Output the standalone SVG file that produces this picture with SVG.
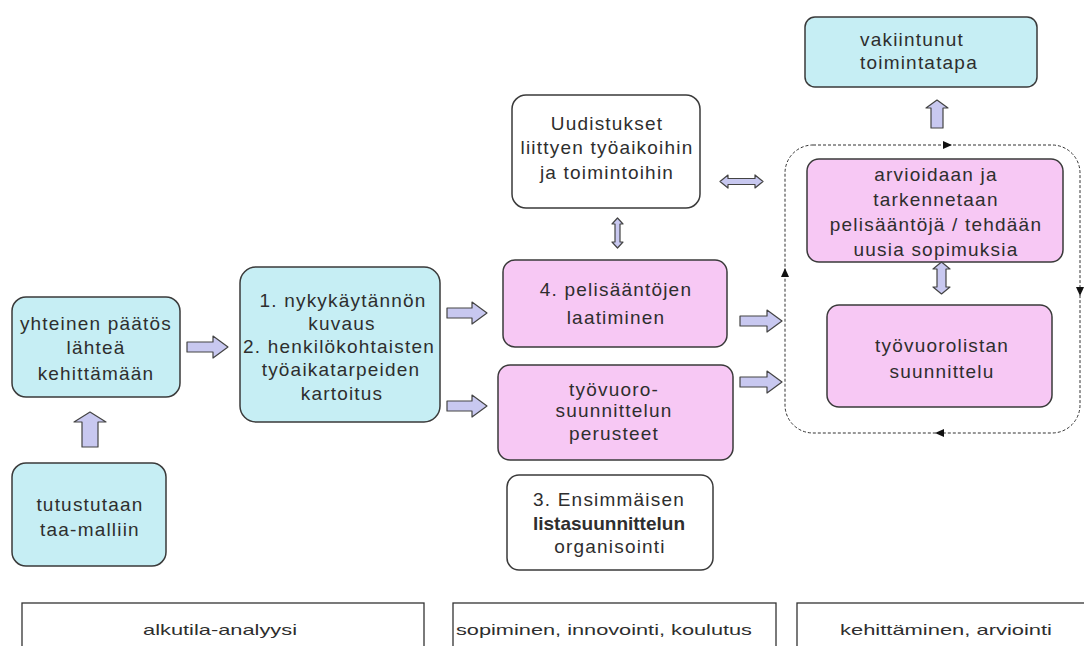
<svg xmlns="http://www.w3.org/2000/svg" width="1084" height="646" viewBox="0 0 1084 646">
<style>
.cy{fill:#c6eef4;stroke:#3a3a3a;stroke-width:1.5}
.pk{fill:#f7c8f4;stroke:#3a3a3a;stroke-width:1.5}
.wh{fill:#ffffff;stroke:#3a3a3a;stroke-width:1.5}
.bar{fill:#ffffff;stroke:#333;stroke-width:1.3}
text{font-family:"Liberation Sans",Arial,sans-serif;font-size:19px;fill:#2e2e2e;text-anchor:middle;letter-spacing:1.2px}
.sm{font-size:15px;letter-spacing:0}
.ar{fill:#c8c8f0;stroke:#444;stroke-width:1.2;stroke-linejoin:round}
.loop{fill:none;stroke:#333;stroke-width:1;stroke-dasharray:3 2}
.tri{fill:#111}
</style>
<rect width="1084" height="646" fill="#ffffff"/>
<g id="n-yhteinen">
<rect class="cy" x="12" y="297" width="168" height="100" rx="14"/>
<text x="96" y="330">yhteinen päätös</text>
<text x="96" y="354">lähteä</text>
<text x="96" y="380">kehittämään</text>
</g>
<g id="n-tutustutaan">
<rect class="cy" x="12" y="463" width="154" height="103" rx="14"/>
<text x="90" y="511">tutustutaan</text>
<text x="90" y="536">taa-malliin</text>
</g>
<g id="n-kuvaus">
<rect class="cy" x="240" y="267" width="200" height="155" rx="16"/>
<text x="343" y="307">1. nykykäytännön</text>
<text x="342" y="330">kuvaus</text>
<text x="339" y="353">2. henkilökohtaisten</text>
<text x="341" y="376">työaikatarpeiden</text>
<text x="342" y="400">kartoitus</text>
</g>
<g id="n-uudistukset">
<rect class="wh" x="512" y="95" width="188" height="113" rx="14"/>
<text x="607" y="130">Uudistukset</text>
<text x="607" y="154">liittyen työaikoihin</text>
<text x="607" y="179">ja toimintoihin</text>
</g>
<g id="n-pelisaannot">
<rect class="pk" x="503" y="260" width="224" height="87" rx="12"/>
<text x="616" y="296">4. pelisääntöjen</text>
<text x="616" y="324">laatiminen</text>
</g>
<g id="n-perusteet">
<rect class="pk" x="498" y="365" width="235" height="95" rx="12"/>
<text x="614" y="396">työvuoro-</text>
<text x="614" y="417">suunnittelun</text>
<text x="614" y="440">perusteet</text>
</g>
<g id="n-ensimmaisen">
<rect class="wh" x="507" y="475" width="206" height="95" rx="12"/>
<text x="609" y="506">3.  Ensimmäisen</text>
<text x="609" y="530" font-weight="bold" style="letter-spacing:0">listasuunnittelun</text>
<text x="610" y="553">organisointi</text>
</g>
<g id="n-vakiintunut">
<rect class="cy" x="805" y="17" width="232" height="70" rx="10"/>
<text x="860" y="46" style="text-anchor:start">vakiintunut</text>
<text x="860" y="69" style="text-anchor:start">toimintatapa</text>
</g>
<g id="n-arvioidaan">
<rect class="pk" x="807" y="159" width="256" height="103" rx="12"/>
<text x="936" y="181">arvioidaan ja</text>
<text x="936" y="206">tarkennetaan</text>
<text x="936" y="231">pelisääntöjä / tehdään</text>
<text x="936" y="256">uusia sopimuksia</text>
</g>
<g id="n-tyovuorolistan">
<rect class="pk" x="827" y="305" width="225" height="102" rx="12"/>
<text x="942" y="352">työvuorolistan</text>
<text x="942" y="378">suunnittelu</text>
</g>
<g id="phases">
<rect class="bar" x="22" y="603" width="402" height="60"/>
<text class="sm" x="220" y="635" textLength="154" lengthAdjust="spacingAndGlyphs">alkutila-analyysi</text>
<rect class="bar" x="453" y="603" width="323" height="60"/>
<text class="sm" x="604" y="635" textLength="296" lengthAdjust="spacingAndGlyphs">sopiminen, innovointi, koulutus</text>
<rect class="bar" x="797" y="603" width="300" height="60"/>
<text class="sm" x="946" y="635" textLength="212" lengthAdjust="spacingAndGlyphs">kehittäminen, arviointi</text>
</g>
<g id="connectors">
<path class="ar" d="M187,342 h26 v-6 l15,11 l-15,11 v-6 h-26 z"/>
<path class="ar" d="M447,308 h25 v-6 l15,11 l-15,11 v-6 h-25 z"/>
<path class="ar" d="M447,401 h25 v-6 l15,11 l-15,11 v-6 h-25 z"/>
<path class="ar" d="M740,316 h27 v-6 l15,11 l-15,11 v-6 h-27 z"/>
<path class="ar" d="M740,377 h27 v-6 l15,11 l-15,11 v-6 h-27 z"/>
<path class="ar" d="M82,447 v-25 h-8 l16,-10 l16,10 h-8 v25 z"/>
<path class="ar" d="M931,128 v-20 h-5 l11,-8 l11,8 h-5 v20 z"/>
<path class="ar" d="M615,224 h-3 l5.5,-6 l5.5,6 h-3 v18 h3 l-5.5,6 l-5.5,-6 h3 z"/>
<path class="ar" d="M728,178.5 v-3.5 l-8,6.5 l8,6.5 v-3.5 h27 v3.5 l8,-6.5 l-8,-6.5 v3.5 z"/>
<path class="ar" d="M937,269 h-4 l8.5,-7 l8.5,7 h-4 v18 h4 l-8.5,7 l-8.5,-7 h4 z"/>
<rect class="loop" x="785" y="145" width="295" height="288" rx="28"/>
<path class="tri" d="M952,145 l-9,-4 v8 z"/>
<path class="tri" d="M785,268 l-4,9 h8 z"/>
<path class="tri" d="M1080,296 l-4,-9 h8 z"/>
<path class="tri" d="M935,433 l9,-4 v8 z"/>
</g>
</svg>
